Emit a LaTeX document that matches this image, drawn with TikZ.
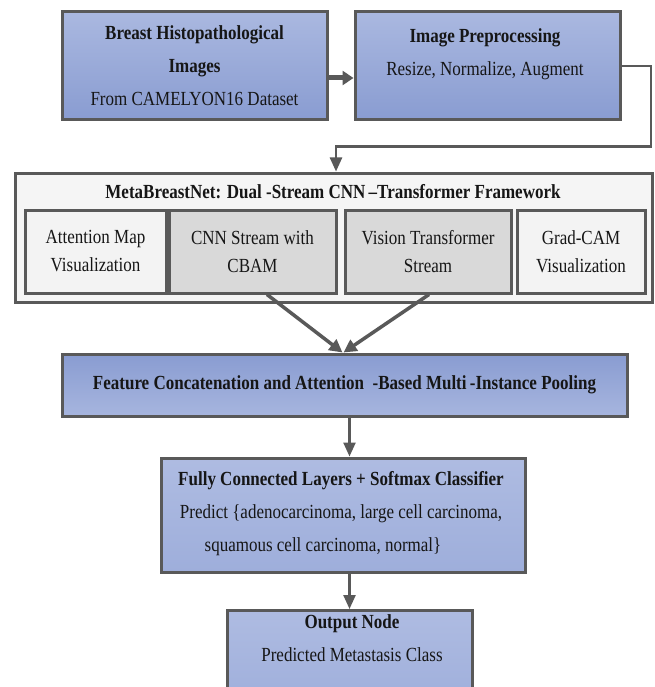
\documentclass[tikz,border=0pt]{standalone}
\usepackage{fontspec}
\setmainfont{Liberation Serif}[FakeStretch=0.85]
\usetikzlibrary{arrows.meta,calc}
\definecolor{edge}{RGB}{89,89,89}
\definecolor{bluetop}{RGB}{170,184,224}
\definecolor{bluebot}{RGB}{137,156,209}
\definecolor{bluemid}{RGB}{158,174,219}
\definecolor{lightbox}{RGB}{243,243,243}
\definecolor{framebg}{RGB}{245,245,245}
\definecolor{graybox}{RGB}{217,217,217}
\definecolor{ink}{RGB}{22,22,22}
\begin{document}
\begin{tikzpicture}[x=1pt,y=1pt,
  every node/.style={text=ink},
  mainfont/.style={font=\fontsize{20}{33}\selectfont},
  innerfont/.style={font=\fontsize{20}{28}\selectfont},
  bluebox/.style={draw=edge, line width=3pt, top color=bluetop, bottom color=bluebot, inner sep=0pt, align=center, mainfont},
  bluerev/.style={draw=edge, line width=3pt, top color=bluebot, bottom color=bluetop!90!bluebot, inner sep=0pt, align=center, mainfont},
  blueflat/.style={draw=edge, line width=3pt, top color=bluetop!95!white, bottom color=bluemid, inner sep=0pt, align=center, mainfont},
  framebox/.style={draw=edge, line width=3pt, fill=framebg, inner sep=0pt},
  litebox/.style={draw=edge, line width=3pt, fill=lightbox, inner sep=0pt, align=center, innerfont},
  greybox/.style={draw=edge, line width=3pt, fill=graybox, inner sep=0pt, align=center, innerfont},
  txt/.style={inner sep=0pt, align=center, mainfont},
  fatarrow/.style={draw=edge, line width=5pt, -{Triangle[length=11pt,width=14pt]}},
  midarrow/.style={draw=edge, line width=3.5pt, -{Triangle[length=13pt,width=13pt]}},
  thinarrow/.style={draw=edge, line width=2.4pt, -{Triangle[length=14pt,width=12pt]}}
]
\clip (0,0) rectangle (654,-687);
\fill[white] (0,0) rectangle (654,-687);

% top row
\node[bluebox, minimum width=265pt, minimum height=108pt] (b1) at (194.5,-66)
  {\textbf{Breast Histopathological}\\\textbf{Images}\\From CAMELYON16 Dataset};
\node[bluebox, minimum width=265pt, minimum height=108pt] (b2) at (487.5,-66) {};
\node[txt] (b2t) at (485,-54) {\textbf{Image Preprocessing}\\Resize, Normalize, Augment};

% framework
\node[framebox, minimum width=637pt, minimum height=129pt] (frame) at (333.5,-237.5) {};
\node[txt] (title) at (333,-192) {\textbf{MetaBreastNet: Dual -Stream CNN\,–Transformer Framework}};
\node[litebox, minimum width=141pt, minimum height=83pt] (att) at (95.5,-251.5) {Attention Map\\Visualization};
\node[greybox, minimum width=167pt, minimum height=83pt] (cnn) at (252.5,-251.5) {CNN Stream with\\CBAM};
\node[greybox, minimum width=166pt, minimum height=83pt] (vit) at (428,-251.5) {Vision Transformer\\Stream};
\node[litebox, minimum width=128pt, minimum height=83pt] (grad) at (581,-251.5) {Grad-CAM\\Visualization};

% lower chain
\node[bluerev, minimum width=565pt, minimum height=62pt] (feat) at (344.5,-385)
  {\textbf{Feature Concatenation and Attention\ \ -Based Multi\,-Instance Pooling}};
\node[blueflat, minimum width=364pt, minimum height=114pt] (fc) at (343,-515) {};
\node[txt] (fct) at (341,-514)
  {\textbf{Fully Connected Layers + Softmax Classifier}\\Predict \{adenocarcinoma, large cell carcinoma,\\squamous cell carcinoma, normal\}\hspace*{36pt}};
\node[blueflat, anchor=north, minimum width=245pt, minimum height=100pt] (out) at (349.5,-609) {};
\node[txt] (outt) at (352,-638) {\textbf{Output Node}\\Predicted Metastasis Class};

% connectors
\coordinate (turn) at (651,-146.5);
\coordinate (drop) at ($(frame.north)+(2.5,0)$);
\draw[fatarrow] ($(b1.east)+(0,-12)$) -- ($(b2.west)+(0,-12)$);
\draw[thinarrow] (b2.east) -| (turn) -| (drop);
\draw[midarrow] ($(cnn.south)+(14.5,0)$) -- ($(feat.north)+(-2,0)$);
\draw[midarrow] ($(vit.south)+(1,0)$) -- ($(feat.north)+(-1,0)$);
\draw[thinarrow] (feat.south -| out.north) -- (fc.north -| out.north);
\draw[thinarrow] (fc.south -| out.north) -- (out.north);
\end{tikzpicture}
\end{document}
